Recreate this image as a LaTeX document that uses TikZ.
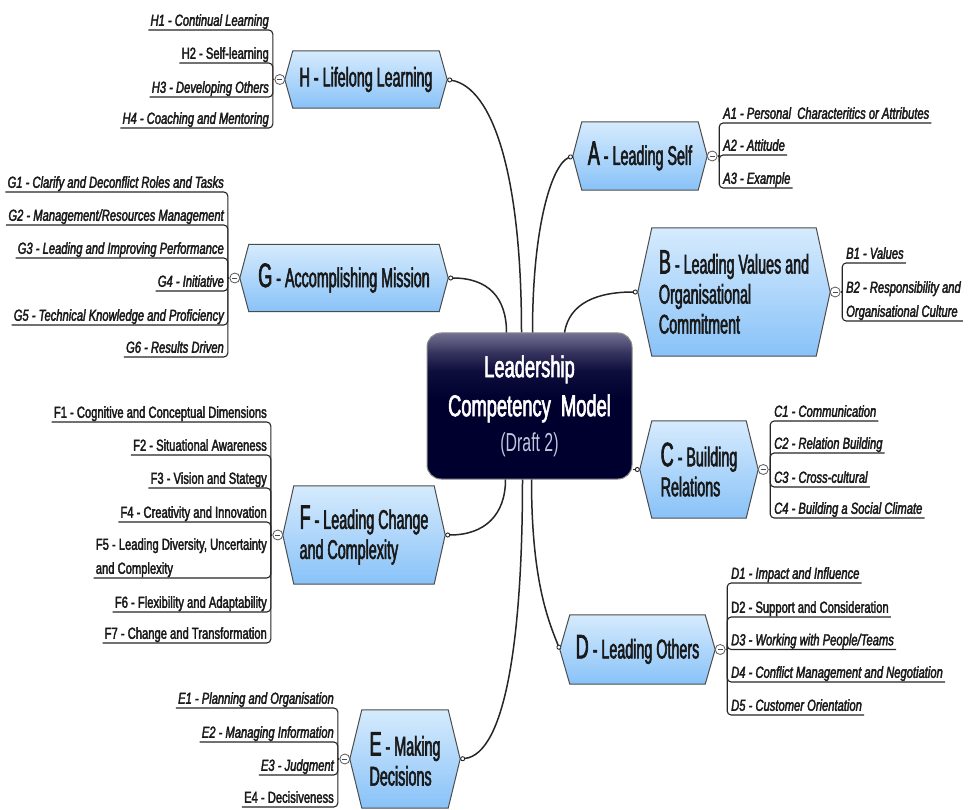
\documentclass[tikz,border=0pt]{standalone}
\usepackage{fontspec}
\setmainfont{Liberation Sans}
\newfontfamily\leaffont{Liberation Sans}[FakeStretch=0.7, RawFeature={embolden=2.2}]
\newfontfamily\topicfont{Liberation Sans}[FakeStretch=0.53, RawFeature={embolden=2}]
\newfontfamily\corefont{Liberation Sans}[FakeStretch=0.61, RawFeature={embolden=2}]
\newfontfamily\draftfont{Liberation Sans}[FakeStretch=0.61]
\usetikzlibrary{arrows.meta}
\pgfdeclarelayer{background}
\pgfsetlayers{background,main}

\definecolor{hextop}{RGB}{214,235,253}
\definecolor{hexbot}{RGB}{136,194,248}
\definecolor{coretop}{RGB}{114,112,145}
\definecolor{corehaze}{RGB}{52,50,92}
\definecolor{coremid}{RGB}{14,14,60}
\definecolor{corebot}{RGB}{0,0,46}
\definecolor{draftgrey}{RGB}{196,196,222}

% dark navy body with a lighter band along the top edge
\pgfdeclareverticalshading{coreshade}{100bp}{color(0bp)=(corebot); color(25bp)=(corebot);
  color(52bp)=(corebot); color(62bp)=(coremid); color(68bp)=(corehaze);
  color(75bp)=(coretop); color(100bp)=(coretop)}

\tikzset{
  topic/.style={inner sep=0pt, font=\topicfont\fontsize{27}{30}\selectfont, text=black!90},
  hexfill/.style={draw=black!70, line width=1pt, top color=hextop, bottom color=hexbot},
  leaf/.style={inner xsep=2pt, inner ysep=0pt, text depth=4pt, text=black!90,
    font=\leaffont\fontsize{16}{24}\selectfont},
  leafit/.style={leaf, font=\leaffont\fontsize{16}{24}\selectfont\itshape},
  bracket/.style={draw=black!85, line width=1.1pt, rounded corners=4pt},
  link/.style={draw=black!85, line width=1.5pt,
    -{Circle[length=5pt, width=5pt, fill=white, line width=0.9pt]}},
  fold/.style={circle, draw=black!65, fill=white, line width=0.8pt,
    minimum size=10pt, inner sep=0pt},
  core/.style={rounded corners=14pt, draw=black!45, line width=1pt, shading=coreshade,
    minimum width=205pt, minimum height=146pt, inner sep=0pt, align=center,
    text=white, font=\corefont\fontsize{30}{39}\selectfont}
}

% big initial letter of a topic title
\newcommand\tlet[1]{{\fontsize{34}{30}\selectfont #1}}
% leaf on the right / left of its topic: [style]{name}{spine}{x}{underline y}{text}
\newcommand\leafR[6][leaf]{%
  \node[#1, anchor=south west] (#2) at (#4,#5) {#6};
  \draw[bracket] (#2.south east) -- (#2.south west -| #3) -- (#3);}
\newcommand\leafL[6][leaf]{%
  \node[#1, anchor=south east] (#2) at (#4,#5) {#6};
  \draw[bracket] (#2.south west) -- (#2.south east -| #3) -- (#3);}
% collapse marker with its spine point
\newcommand\foldmark[3]{% name, topic anchor, direction (+1 right, -1 left)
  \node[fold] (#1m) at ([xshift=#3*5pt]#2) {};
  \draw[black!70, line width=0.9pt] ([xshift=-2.6pt]#1m.center) -- ([xshift=2.6pt]#1m.center);
  \coordinate (#1s) at ([xshift=#3*7pt]#1m.center);
  \draw[bracket] (#1s) -- (#1m);}

\begin{document}
\begin{tikzpicture}[x=1pt,y=-1pt]
\useasboundingbox (0,0) rectangle (970,810);

% central topic
\node[core] (core) at (529.5,406)
  {Leadership\\Competency~ Model\\[-4pt]{\draftfont\fontsize{26}{30}\selectfont\color{draftgrey}(Draft 2)}};

% main topics
\node[topic, minimum width=134pt, minimum height=68pt] (A) at (640,156) {\tlet{A} - Leading Self};
\node[topic, minimum width=192pt, minimum height=128pt, align=left] (B) at (734,292)
  {\tlet{B} - Leading Values and\\Organisational\\Commitment};
\node[topic, minimum width=118pt, minimum height=97pt, align=left] (C) at (699,469.5)
  {\tlet{C} - Building\\Relations};
\node[topic, minimum width=155pt, minimum height=69pt] (D) at (637.5,649.5) {\tlet{D} - Leading Others};
\node[topic, minimum width=110pt, minimum height=98pt, align=left] (E) at (405,759)
  {\tlet{E} - Making\\Decisions};
\node[topic, minimum width=162pt, minimum height=98pt, align=left] (F) at (364,535)
  {\tlet{F} - Leading Change\\and Complexity};
\node[topic, minimum width=208pt, minimum height=67pt] (G) at (344,278) {\tlet{G} - Accomplishing Mission};
\node[topic, minimum width=162pt, minimum height=57pt] (H) at (366,79.5) {H - Lifelong Learning};

\begin{pgfonlayer}{background}
  \fill[white] (0,0) rectangle (970,810);
  \foreach \n/\d in {A/9,B/14,C/12,D/10,E/12,F/11,G/9,H/8}
    \draw[hexfill] (\n.west) -- ([xshift=\d pt]\n.north west) -- ([xshift=-\d pt]\n.north east)
      -- (\n.east) -- ([xshift=-\d pt]\n.south east) -- ([xshift=\d pt]\n.south west) -- cycle;
\end{pgfonlayer}

% links from the central topic
\draw[link] ([xshift=80pt]core.north west) .. controls +(0,-35) and +(40,0) .. (G.east);
\draw[link] ([xshift=95pt]core.north west) .. controls +(0,-160) and +(45,8) .. (H.east);
\draw[link] ([xshift=106pt]core.north west) .. controls +(0,-110) and +(-20,8) .. (A.west);
\draw[link] ([xshift=138pt]core.north west) .. controls +(5,-30) and +(-40,0) .. (B.west);
\draw[link] (core.east |- C.west) -- (C.west);
\draw[link] ([xshift=79pt]core.south west) .. controls +(0,35) and +(40,0) .. (F.east);
\draw[link] ([xshift=96pt]core.south west) .. controls +(0,160) and +(45,-5) .. (E.east);
\draw[link] ([xshift=105pt]core.south west) .. controls +(0,100) and +(-12,-30) .. (D.west);

% A - Leading Self
\foldmark{A}{A.east}{1}
\leafR[leafit]{A1}{As}{721}{123}{A1 - Personal~ Characteritics or Attributes}
\leafR[leafit]{A2}{As}{721}{155}{A2 - Attitude}
\leafR[leafit]{A3}{As}{721}{188}{A3 - Example}

% B - Leading Values
\foldmark{B}{B.east}{1}
\leafR[leafit]{B1}{Bs}{844}{263}{B1 - Values}
\leafR[leafit, align=left]{B2}{Bs}{844}{321}{B2 - Responsibility and\\Organisational Culture}

% C - Building Relations
\foldmark{C}{C.east}{1}
\leafR[leafit]{C1}{Cs}{772}{421}{C1 - Communication}
\leafR[leafit]{C2}{Cs}{772}{453}{C2 - Relation Building}
\leafR[leafit]{C3}{Cs}{772}{487}{C3 - Cross-cultural}
\leafR[leafit]{C4}{Cs}{772}{518}{C4 - Building a Social Climate}

% D - Leading Others
\foldmark{D}{D.east}{1}
\leafR[leafit]{D1}{Ds}{729}{583}{D1 - Impact and Influence}
\leafR{D2}{Ds}{729}{617}{D2 - Support and Consideration}
\leafR[leafit]{D3}{Ds}{729}{649.5}{D3 - Working with People/Teams}
\leafR[leafit]{D4}{Ds}{729}{682}{D4 - Conflict Management and Negotiation}
\leafR[leafit]{D5}{Ds}{729}{715}{D5 - Customer Orientation}

% E - Making Decisions
\foldmark{E}{E.west}{-1}
\leafL[leafit]{E1}{Es}{336}{708}{E1 - Planning and Organisation}
\leafL[leafit]{E2}{Es}{336}{742}{E2 - Managing Information}
\leafL[leafit]{E3}{Es}{336}{775}{E3 - Judgment}
\leafL{E4}{Es}{336}{807}{E4 - Decisiveness}

% F - Leading Change and Complexity
\foldmark{F}{F.west}{-1}
\leafL{F1}{Fs}{269}{422}{F1 - Cognitive and Conceptual Dimensions}
\leafL{F2}{Fs}{269}{455}{F2 - Situational Awareness}
\leafL{F3}{Fs}{269}{488}{F3 - Vision and Stategy}
\leafL{F4}{Fs}{269}{522}{F4 - Creativity and Innovation}
\leafL[leaf, align=left]{F5}{Fs}{269}{578}{F5 - Leading Diversity, Uncertainty\\and Complexity}
\leafL{F6}{Fs}{269}{612}{F6 - Flexibility and Adaptability}
\leafL{F7}{Fs}{269}{643}{F7 - Change and Transformation}

% G - Accomplishing Mission
\foldmark{G}{G.west}{-1}
\leafL[leafit]{G1}{Gs}{226}{192}{G1 - Clarify and Deconflict Roles and Tasks}
\leafL[leafit]{G2}{Gs}{226}{225}{G2 - Management/Resources Management}
\leafL[leafit]{G3}{Gs}{226}{258}{G3 - Leading and Improving Performance}
\leafL[leafit]{G4}{Gs}{226}{291}{G4 - Initiative}
\leafL[leafit]{G5}{Gs}{226}{325}{G5 - Technical Knowledge and Proficiency}
\leafL[leafit]{G6}{Gs}{226}{357}{G6 - Results Driven}

% H - Lifelong Learning
\foldmark{H}{H.west}{-1}
\leafL[leafit]{H1}{Hs}{271}{30}{H1 - Continual Learning}
\leafL{H2}{Hs}{271}{63}{H2 - Self-learning}
\leafL[leafit]{H3}{Hs}{271}{97}{H3 - Developing Others}
\leafL[leafit]{H4}{Hs}{271}{128}{H4 - Coaching and Mentoring}

\end{tikzpicture}
\end{document}
